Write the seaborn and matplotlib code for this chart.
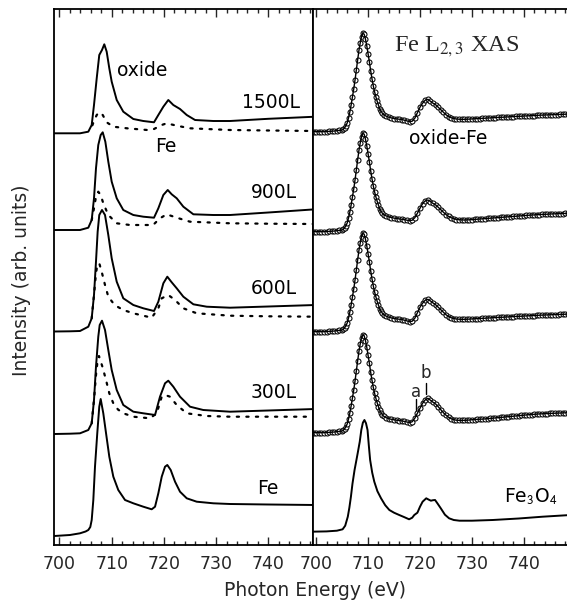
import numpy as np
import matplotlib
matplotlib.use("Agg")
import matplotlib.pyplot as plt
from matplotlib.ticker import MultipleLocator
import seaborn as sns

# ---------------- data (intensity above each curve's own baseline, arb. units) -------------
# Left panel: total spectra (solid) and Fe contribution (dotted)
fe_E = [699, 702, 703.93, 705.0, 705.52, 705.9, 706.17, 706.48, 706.8, 707.24, 707.62, 707.89,
        708.39, 708.91, 709.54, 710.31, 711.26, 712.55, 714.14, 716.05, 717.66, 718.3, 718.93,
        719.58, 720.21, 720.65, 721.3, 722.13, 723.08, 724.37, 726.28, 729.46, 732.66, 740, 749]
fe_I = [0, 1, 2.7, 4.5, 6, 9, 16, 36, 69.3, 103, 129.3, 137, 122.7, 103, 79.3, 59.3, 46, 36,
        32.7, 29.3, 26.7, 29.3, 42.7, 59.3, 69.3, 71, 66, 54.3, 44.3, 37.7, 34.3, 32.7, 32,
        31.5, 31]

l300_E = [699, 702, 703.93, 705.52, 706.17, 706.61, 706.99, 707.43, 707.7, 708.14, 708.72,
          709.35, 710.0, 710.96, 712.22, 714.14, 716.05, 718.3, 719.25, 720.21, 720.84, 721.8,
          723.08, 725.0, 727.53, 732.66, 740, 749]
l300_I = [0, 0.3, 0.7, 4, 10.7, 34, 67.3, 97.3, 109, 113.3, 104, 84, 64, 44, 29, 22.3, 20.7,
          19, 37.3, 50.7, 53.3, 47.3, 37.3, 27.3, 24, 22.3, 23.5, 25]
l300_fe_E = [706.17, 706.61, 706.99, 707.31, 707.56, 708.22, 708.91, 709.54, 710.31, 711.2,
             712.22, 714.14, 717.34, 718.62, 719.58, 720.21, 721.17, 722.45, 724.37, 728.2,
             732.66, 740, 749]
l300_fe_I = [10.7, 34, 59, 74, 78, 67.3, 54, 40.7, 30.7, 24.5, 20.7, 17.3, 15.7, 20.7, 37.3,
             39, 37.3, 29, 20.7, 18, 17.3, 17.3, 17.3]

l600_E = [699, 702, 703.93, 705.52, 706.17, 706.61, 706.99, 707.31, 707.62, 708.14, 708.72,
          709.35, 710.0, 710.96, 712.22, 714.14, 716.05, 718.1, 718.93, 719.89, 720.65, 721.49,
          722.45, 723.72, 725.64, 728.2, 732.66, 740, 749]
l600_I = [0, 0.2, 0.5, 4.8, 13.2, 36.5, 69.8, 99.8, 116.5, 121.5, 116.5, 96.5, 73.2, 49.8,
          33.2, 26.5, 23.2, 20.5, 29.8, 48.2, 54.8, 49.2, 43.2, 34.8, 27.2, 24.8, 23.8, 25, 26.5]
l600_fe_E = [706.17, 706.61, 706.99, 707.24, 707.62, 708.08, 708.72, 709.35, 710.31, 711.2,
             712.22, 714.14, 717.66, 718.93, 719.58, 720.84, 722.13, 723.72, 726.28, 732.66,
             740, 749]
l600_fe_I = [13.2, 36.5, 58, 66.5, 68.2, 59.8, 46.5, 34.8, 28.2, 24.5, 21.5, 18.2, 13.8, 23.2,
             33.2, 36.5, 31.5, 23.2, 18.2, 15.8, 15.2, 14.8]

l900_E = [699, 702, 703.93, 705.52, 706.17, 706.61, 706.99, 707.43, 707.89, 708.28, 708.78,
          709.35, 710.0, 710.96, 712.22, 714.14, 716.05, 718.1, 718.93, 719.89, 720.73, 721.49,
          722.45, 723.72, 725.64, 729.46, 732.66, 740, 749]
l900_I = [0, 0, 0, 2.3, 10, 31.7, 61.7, 85, 95, 97.7, 88.3, 68.3, 48.3, 31.7, 20, 15, 13.3,
          12.3, 21.7, 35, 40, 35.7, 31.7, 23.3, 15.7, 15, 15, 17.5, 20.7]
l900_fe_E = [706.17, 706.61, 706.99, 707.43, 707.89, 708.39, 709.35, 710.96, 713.5, 717.92,
             719.25, 720.53, 722.45, 725.0, 732.66, 740, 749]
l900_fe_I = [10, 21.7, 33.3, 38.3, 35, 26.7, 15, 6.7, 5, 5, 11.7, 15.7, 12.3, 8.3, 6.7, 6.3, 6]

l1500_E = [699, 702, 703.93, 705.52, 706.17, 706.61, 707.13, 707.62, 708.14, 708.58, 709.04,
           709.54, 710.0, 710.96, 712.22, 714.14, 716.05, 718.1, 718.93, 719.89, 720.84, 721.8,
           723.08, 724.37, 725.96, 729.46, 732.66, 740, 749]
l1500_I = [0, 0, 0, 1.6, 8.3, 28.3, 55, 78.3, 83.3, 89, 81.6, 65, 51.6, 33.3, 21.6, 14.3, 12.3,
           11, 18.3, 26.6, 33.3, 28.3, 24.3, 18.3, 13.3, 12.3, 12.3, 14.5, 16.6]
l1500_fe_E = [706.3, 706.61, 707.13, 707.62, 708.28, 709.04, 710.31, 712.93, 716.82, 718.1,
              719.58, 720.53, 722.45, 725.0, 732.66, 740, 749]
l1500_fe_I = [8, 12.3, 18.3, 21, 18.3, 11, 6.6, 5, 3.3, 4.3, 8.3, 10, 7.6, 5, 3.3, 2.8, 2.3]

# Right panel: oxide - Fe difference spectra (circles) and Fe3O4 reference
diff_E = [699, 699.5, 700, 700.5, 701, 701.5, 702, 702.5, 703, 703.5, 704, 704.5,
          705, 705.25, 705.5, 705.75, 706, 706.25, 706.5, 706.75, 707, 707.25, 707.5, 707.75,
          708, 708.25, 708.5, 708.75, 709, 709.25, 709.5, 709.75, 710, 710.25, 710.5, 710.75,
          711, 711.25, 711.5, 711.75, 712, 712.25, 712.5, 712.75, 713,
          713.5, 714, 714.5, 715, 715.5, 716, 716.5, 717, 717.5, 718, 718.5, 719, 719.5, 720,
          720.5, 721, 721.5, 722, 722.5, 723, 723.5, 724, 724.5, 725, 725.5, 726, 726.5, 727,
          727.5, 728, 728.5, 729, 729.5, 730, 730.5, 731, 731.5, 732, 732.5, 733, 733.5, 734,
          734.5, 735, 735.5, 736, 736.5, 737, 737.5, 738, 738.5, 739, 739.5, 740, 740.5, 741,
          741.5, 742, 742.5, 743, 743.5, 744, 744.5, 745, 745.5, 746, 746.5, 747, 747.5, 748,
          748.5, 749]
diff_pre = [0, 0, 0, 0, 0, 0, 0.2, 0.3, 0.5, 0.7, 1, 1.3]
diff_L3 = [1.7, 2.5, 4, 6, 9, 14, 20, 27, 35, 43, 52, 62, 72, 81.5, 89, 95, 98.4, 97.5, 92.5,
           86, 78, 70, 61, 53, 46, 40, 35, 30.5, 26.5, 23, 20.5, 18.5, 17]
d300_L3 = [1.7, 2.5, 4, 6, 9, 14, 20, 27, 35, 43, 52, 62, 72, 81.5, 89, 95, 97.7, 97, 92,
           85.5, 77.5, 69.5, 60.5, 52.5, 45.5, 39.5, 34.5, 30, 26, 22.5, 20, 18, 16.5]
d1500_L2 = [15.5, 14.5, 13.8, 13.2, 12.8, 12.5, 12.2, 11.5, 10.8, 10, 10.5, 13.5, 19, 24.5,
            28.5, 31.5, 32.4, 30.5, 28.5, 27, 24.5, 22, 19.5, 17, 15.2, 14, 13.2, 12.7]
d1500_tail = [12.5, 12.4, 12.4, 12.5, 12.6, 12.8, 12.9, 13.1, 13.2, 13.4, 13.5, 13.7, 13.8,
              14.0, 14.1, 14.3, 14.4, 14.5, 14.7, 14.8, 15.0, 15.1, 15.3, 15.4, 15.5, 15.7,
              15.8, 15.9, 16.1, 16.2, 16.3, 16.5, 16.6, 16.7, 16.8, 16.9, 17.0, 17.1, 17.2,
              17.3, 17.4, 17.5, 17.6, 17.7]
d900_L2 = [15.8, 14.8, 14.2, 13.6, 13.2, 12.8, 12.4, 12, 11.5, 11, 11.5, 14, 18.5, 23.5, 28,
           30.8, 31.7, 30.2, 28.3, 26.8, 24.5, 22, 19.5, 17.2, 15.3, 14, 13, 12.2]
d900_tail = [12.0, 11.8, 11.7, 11.8, 11.9, 12.1, 12.3, 12.5, 12.7, 12.9, 13.1, 13.3, 13.5,
             13.7, 13.9, 14.1, 14.3, 14.5, 14.7, 14.9, 15.1, 15.3, 15.5, 15.7, 15.9, 16.1,
             16.3, 16.5, 16.7, 16.8, 17.0, 17.1, 17.3, 17.4, 17.5, 17.7, 17.8, 17.9, 18.0,
             18.1, 18.2, 18.3, 18.4, 18.4]
d600_L2 = [15.5, 14.5, 13.8, 13.2, 12.8, 12.5, 12.2, 11.5, 10.8, 10, 10.5, 13.5, 19, 24.5,
           28.5, 31.5, 32.4, 30.8, 28.8, 27, 24.5, 22, 19.5, 17, 15.2, 14, 13.2, 12.7]
d600_tail = [12.5, 12.4, 12.4, 12.5, 12.6, 12.8, 12.9, 13.1, 13.2, 13.4, 13.5, 13.7, 13.8,
             14.0, 14.1, 14.3, 14.4, 14.5, 14.7, 14.8, 15.0, 15.1, 15.3, 15.4, 15.5, 15.7,
             15.8, 15.9, 16.1, 16.2, 16.3, 16.5, 16.6, 16.7, 16.8, 16.9, 17.0, 17.1, 17.2,
             17.3, 17.4, 17.5, 17.6, 17.7]
d300_L2 = [15, 14, 13.4, 12.9, 12.5, 12.2, 11.8, 11.3, 10.7, 10, 11, 14.5, 19.5, 24.5, 29.5,
           32.8, 34.4, 32.5, 30.5, 28.8, 26, 23, 20, 17.5, 15.5, 14, 13, 12.5]
d300_tail = [12.4, 12.3, 12.4, 12.5, 12.7, 13.0, 13.1, 13.3, 13.5, 13.6, 13.8, 14.0, 14.3,
             14.5, 14.8, 15.0, 15.3, 15.5, 15.8, 16.0, 16.3, 16.5, 16.8, 17.0, 17.3, 17.5,
             17.8, 18.0, 18.2, 18.4, 18.6, 18.8, 18.9, 19.0, 19.2, 19.3, 19.4, 19.5, 19.6,
             19.7, 19.8, 19.9, 20.0, 20.0]

fe3o4_E = [699, 702, 704, 705.1, 705.6, 706.1, 706.4, 706.7, 707.0, 707.4, 707.7, 708.0,
           708.4, 708.7, 709.0, 709.3, 709.6, 709.9, 710.15, 710.4, 710.8, 711.2, 711.8, 712.5,
           713.3, 714.1, 715, 716, 717, 717.9, 718.5, 718.9, 719.5, 720, 720.5, 721.2, 721.7,
           722.1, 722.5, 722.9, 723.4, 724.0, 724.8, 725.6, 726.5, 727.6, 730, 734, 739, 743.6,
           749]
fe3o4_I = [0, 0.3, 1, 2.4, 6, 15, 24, 35, 48, 61.7, 70, 78.4, 90, 101.7, 109, 111.7, 108.5,
           101.7, 86, 71.7, 59, 50, 40.5, 33.4, 26.5, 21.7, 19, 16.7, 14.5, 12.4, 14, 16.7, 19,
           25, 30, 33.4, 32, 31, 31.5, 31.7, 28, 23.4, 17, 13.4, 11.7, 11, 11, 11.7, 13.2, 15,
           16.7]

x_ticks = [700, 710, 720, 730, 740]
left_labels = ["1500L", "900L", "600L", "300L"]

# ---------------- layout constants ----------------
W, H = 567, 605
left_off = {"Fe": 9, "300L": 111, "600L": 213.5, "900L": 315, "1500L": 411.7}
right_off = {"Fe3O4": 13.3, "300L": 112.3, "600L": 213.3, "900L": 313.3, "1500L": 413.3}

sns.set_style("ticks")
plt.rcParams['font.family'] = ['DejaVu Sans']
plt.rcParams['mathtext.fontset'] = 'stix'

fig = plt.figure(figsize=(W / 100, H / 100), dpi=100)
axL = fig.add_axes([54 / W, (H - 545) / H, (313 - 54) / W, (545 - 9) / H])
axR = fig.add_axes([313 / W, (H - 545) / H, (567 - 313) / W, (545 - 9) / H])

DOT = (0, (1.0, 3.3))


def curve(ax, E, I, off, **kw):
    sns.lineplot(x=np.asarray(E, float), y=np.asarray(I, float) + off, ax=ax,
                 estimator=None, sort=False, color="black", legend=False, **kw)


def circles(ax, E, I, off):
    sns.scatterplot(x=np.asarray(E, float), y=np.asarray(I, float) + off, ax=ax,
                    s=13, marker="o", facecolor="white", edgecolor="black",
                    linewidth=0.75, legend=False, zorder=2)


solid = dict(lw=1.4, solid_joinstyle="round")
dotted = dict(lw=1.6, linestyle=DOT, dash_capstyle="round")

# left panel
curve(axL, fe_E, fe_I, left_off["Fe"], **solid)
curve(axL, l300_E, l300_I, left_off["300L"], **solid)
curve(axL, l300_fe_E, l300_fe_I, left_off["300L"], **dotted)
curve(axL, l600_E, l600_I, left_off["600L"], **solid)
curve(axL, l600_fe_E, l600_fe_I, left_off["600L"], **dotted)
curve(axL, l900_E, l900_I, left_off["900L"], **solid)
curve(axL, l900_fe_E, l900_fe_I, left_off["900L"], **dotted)
curve(axL, l1500_E, l1500_I, left_off["1500L"], **solid)
curve(axL, l1500_fe_E, l1500_fe_I, left_off["1500L"], **dotted)

# right panel
series = {
    "1500L": diff_pre + diff_L3 + d1500_L2 + d1500_tail,
    "900L": diff_pre + diff_L3 + d900_L2 + d900_tail,
    "600L": diff_pre + diff_L3 + d600_L2 + d600_tail,
    "300L": diff_pre + d300_L3 + d300_L2 + d300_tail,
}
for key, arr in series.items():
    circles(axR, diff_E, arr, right_off[key])
    curve(axR, diff_E, arr, right_off[key], lw=1.0, zorder=3)
curve(axR, fe3o4_E, fe3o4_I, right_off["Fe3O4"], **solid)

for ax, xl in ((axL, (698.95, 748.55)), (axR, (699.4, 748.3))):
    ax.set_xlim(*xl)
    ax.set_ylim(0, 536)
    ax.set_yticks([])
    ax.set_xticks(x_ticks)
    ax.xaxis.set_minor_locator(MultipleLocator(2))
    ax.tick_params(axis="x", which="both", direction="in", top=True, bottom=True,
                   labelsize=12.5, pad=7, width=1.0)
    ax.tick_params(axis="x", which="major", length=6)
    ax.tick_params(axis="x", which="minor", length=3)
    ax.set_xlabel("")
    ax.set_ylabel("")
    for s in ax.spines.values():
        s.set_linewidth(1.3)
        s.set_color("black")
        s.set_zorder(5)
axR.spines["right"].set_visible(False)

txt = dict(fontsize=13.5, color="black")
axL.text(711.0, 474, "oxide", ha="left", va="center", **txt)
axL.text(720.4, 398, "Fe", ha="center", va="center", **txt)
label_y = {"1500L": 443, "900L": 352, "600L": 256, "300L": 152}
label_x = {"1500L": 746.1, "900L": 745.5, "600L": 745.5, "300L": 745.5}
for lab in left_labels:
    axL.text(label_x[lab], label_y[lab], lab, ha="right", va="center", **txt)
axL.text(739.9, 57, "Fe", ha="center", va="center", **txt)

axR.text(727.1, 498, r"Fe L$_{2,3}$ XAS", ha="center", va="center",
         fontsize=17.5, family="Liberation Serif")
axR.text(725.5, 407, "oxide-Fe", ha="center", va="center", **txt)
axR.text(746.5, 48, r"Fe$_{\mathsf{3}}$O$_{\mathsf{4}}$", ha="right", va="center", **txt)
axR.text(719.2, 153, "a", ha="center", va="center", fontsize=12)
axR.text(721.15, 172, "b", ha="center", va="center", fontsize=12)
axR.plot([719.2, 719.2], [135, 146], color="black", lw=1.0)
axR.plot([721.15, 721.15], [151, 162], color="black", lw=1.0)

fig.text(314.5 / W, 1 - 590 / H, "Photon Energy (eV)", ha="center", va="center", fontsize=13.5)
fig.text(21.7 / W, 1 - 280 / H, "Intensity (arb. units)", ha="center", va="center",
         rotation=90, fontsize=13.5)

fig.savefig("out.png", dpi=100)
